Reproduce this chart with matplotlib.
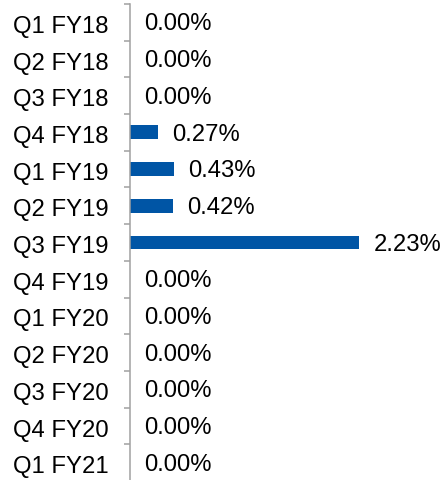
import numpy as np
import matplotlib.pyplot as plt

plt.rcParams['font.family'] = ['Liberation Sans', 'DejaVu Sans']

quarters = ['Q1 FY18', 'Q2 FY18', 'Q3 FY18', 'Q4 FY18',
            'Q1 FY19', 'Q2 FY19', 'Q3 FY19', 'Q4 FY19',
            'Q1 FY20', 'Q2 FY20', 'Q3 FY20', 'Q4 FY20', 'Q1 FY21']
rates = [0.00, 0.00, 0.00, 0.27, 0.43, 0.42, 2.23,
         0.00, 0.00, 0.00, 0.00, 0.00, 0.00]

fig = plt.figure(figsize=(4.46, 4.81), dpi=100)
ax = fig.add_axes([130/446, -1/481, 310/446, 477/481])

ind = np.arange(len(quarters))
ax.barh(ind, rates, height=0.38, color='#0055A5')

for i, v in zip(ind, rates):
    ax.text(v + 0.14, i + 0.03, '%.2f%%' % v, va='center', ha='left',
            fontsize=17.2, color='black')

ax.set_ylim(len(quarters) - 0.5, -0.5)
ax.set_xlim(0, 3.02)
ax.set_yticks(ind + 0.03)
ax.set_yticklabels(quarters, fontsize=17.2)
ax.set_yticks(np.arange(len(quarters) + 1) - 0.5, minor=True)
ax.tick_params(axis='y', which='major', length=0, pad=15.5)
ax.tick_params(axis='y', which='minor', length=4.5, width=1.1,
               color='#a0a0a0', direction='out')
ax.set_xticks([])

for side in ['top', 'right', 'bottom']:
    ax.spines[side].set_visible(False)
ax.spines['left'].set_color('#a0a0a0')
ax.spines['left'].set_linewidth(1.1)

plt.savefig('out.png', dpi=100)
